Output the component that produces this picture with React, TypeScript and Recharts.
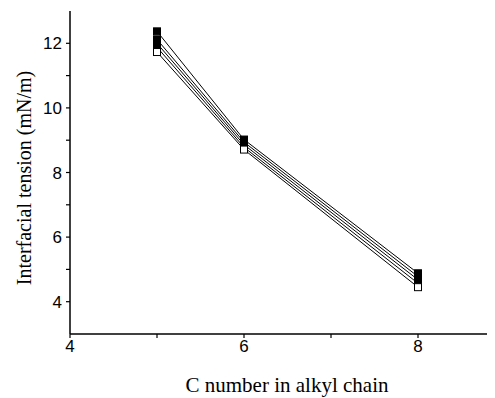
import { Line, LineChart, XAxis, YAxis } from "recharts";

const carbonNumbers = [5, 6, 8];
const seriesA = [12.37, 9.02, 4.88];
const seriesB = [12.12, 8.94, 4.78];
const seriesC = [12.0, 8.86, 4.68];
const seriesD = [11.88, 8.78, 4.57];
const seriesE = [11.73, 8.71, 4.45];

const xTicks = [4, 5, 6, 7, 8];
const yTicks = [4, 5, 6, 7, 8, 9, 10, 11, 12];
const xLabels = [4, 6, 8];
const yLabels = [4, 6, 8, 10, 12];

const data = carbonNumbers.map((c, i) => ({
  c,
  a: seriesA[i],
  b: seriesB[i],
  c1: seriesC[i],
  d: seriesD[i],
  e: seriesE[i],
}));

const sans = "'Liberation Sans', Arial, sans-serif";
const serif = "'Liberation Serif', 'Times New Roman', serif";
const tickFont = { fontFamily: sans, fontSize: 17, fill: "#000" };
const axisStyle = { stroke: "#000", strokeWidth: 1.5 };

function SquareDot(props: any) {
  const { cx, cy, fill } = props;
  if (cx == null || cy == null) return null;
  return (
    <rect x={cx - 3.5} y={cy - 3.5} width={7} height={7} fill={fill} stroke="#000" strokeWidth={1} />
  );
}

function YLabel() {
  return (
    <text x={24} y={178} transform="rotate(-90 24 178)" textAnchor="middle" dominantBaseline="central" fontFamily={serif} fontSize={20} fill="#000">
      Interfacial tension (mN/m)
    </text>
  );
}

function XLabel() {
  return (
    <text x={287} y={385} textAnchor="middle" dominantBaseline="central" fontFamily={serif} fontSize={21} fill="#000">
      C number in alkyl chain
    </text>
  );
}

export default function App() {
  const lines = [
    { key: "a", fill: "#000" },
    { key: "b", fill: "#000" },
    { key: "c1", fill: "#000" },
    { key: "d", fill: "#000" },
    { key: "e", fill: "#fff" },
  ];
  return (
    <div style={{ margin: "-8px 0 0 -8px", width: 495, height: 398, background: "#fff" }}>
      <LineChart width={495} height={398} data={data} margin={{ top: 11, right: 0, bottom: 0, left: 0 }}>
        <XAxis
          dataKey="c"
          type="number"
          domain={[4, 8.885]}
          ticks={xTicks}
          interval={0}
          tickSize={4}
          tickMargin={2}
          tickLine={{ stroke: "#000", strokeWidth: 1.2 }}
          tick={tickFont}
          tickFormatter={(v: number) => (xLabels.includes(v) ? String(v) : "")}
          height={64}
          axisLine={axisStyle}
          label={<XLabel />}
        />
        <XAxis
          xAxisId="top"
          orientation="top"
          dataKey="c"
          type="number"
          domain={[4, 8.885]}
          tick={false}
          tickLine={false}
          height={0}
          axisLine={axisStyle}
        />
        <YAxis
          type="number"
          domain={[3, 13]}
          ticks={yTicks}
          interval={0}
          tickSize={4}
          tickMargin={4}
          tickLine={{ stroke: "#000", strokeWidth: 1.2 }}
          tick={tickFont}
          tickFormatter={(v: number) => (yLabels.includes(v) ? String(v) : "")}
          width={70}
          axisLine={axisStyle}
          label={<YLabel />}
        />
        {lines.map((l) => (
          <Line
            key={l.key}
            dataKey={l.key}
            stroke="#000"
            strokeWidth={1}
            fill={l.fill}
            dot={<SquareDot fill={l.fill} />}
            isAnimationActive={false}
          />
        ))}
      </LineChart>
    </div>
  );
}
